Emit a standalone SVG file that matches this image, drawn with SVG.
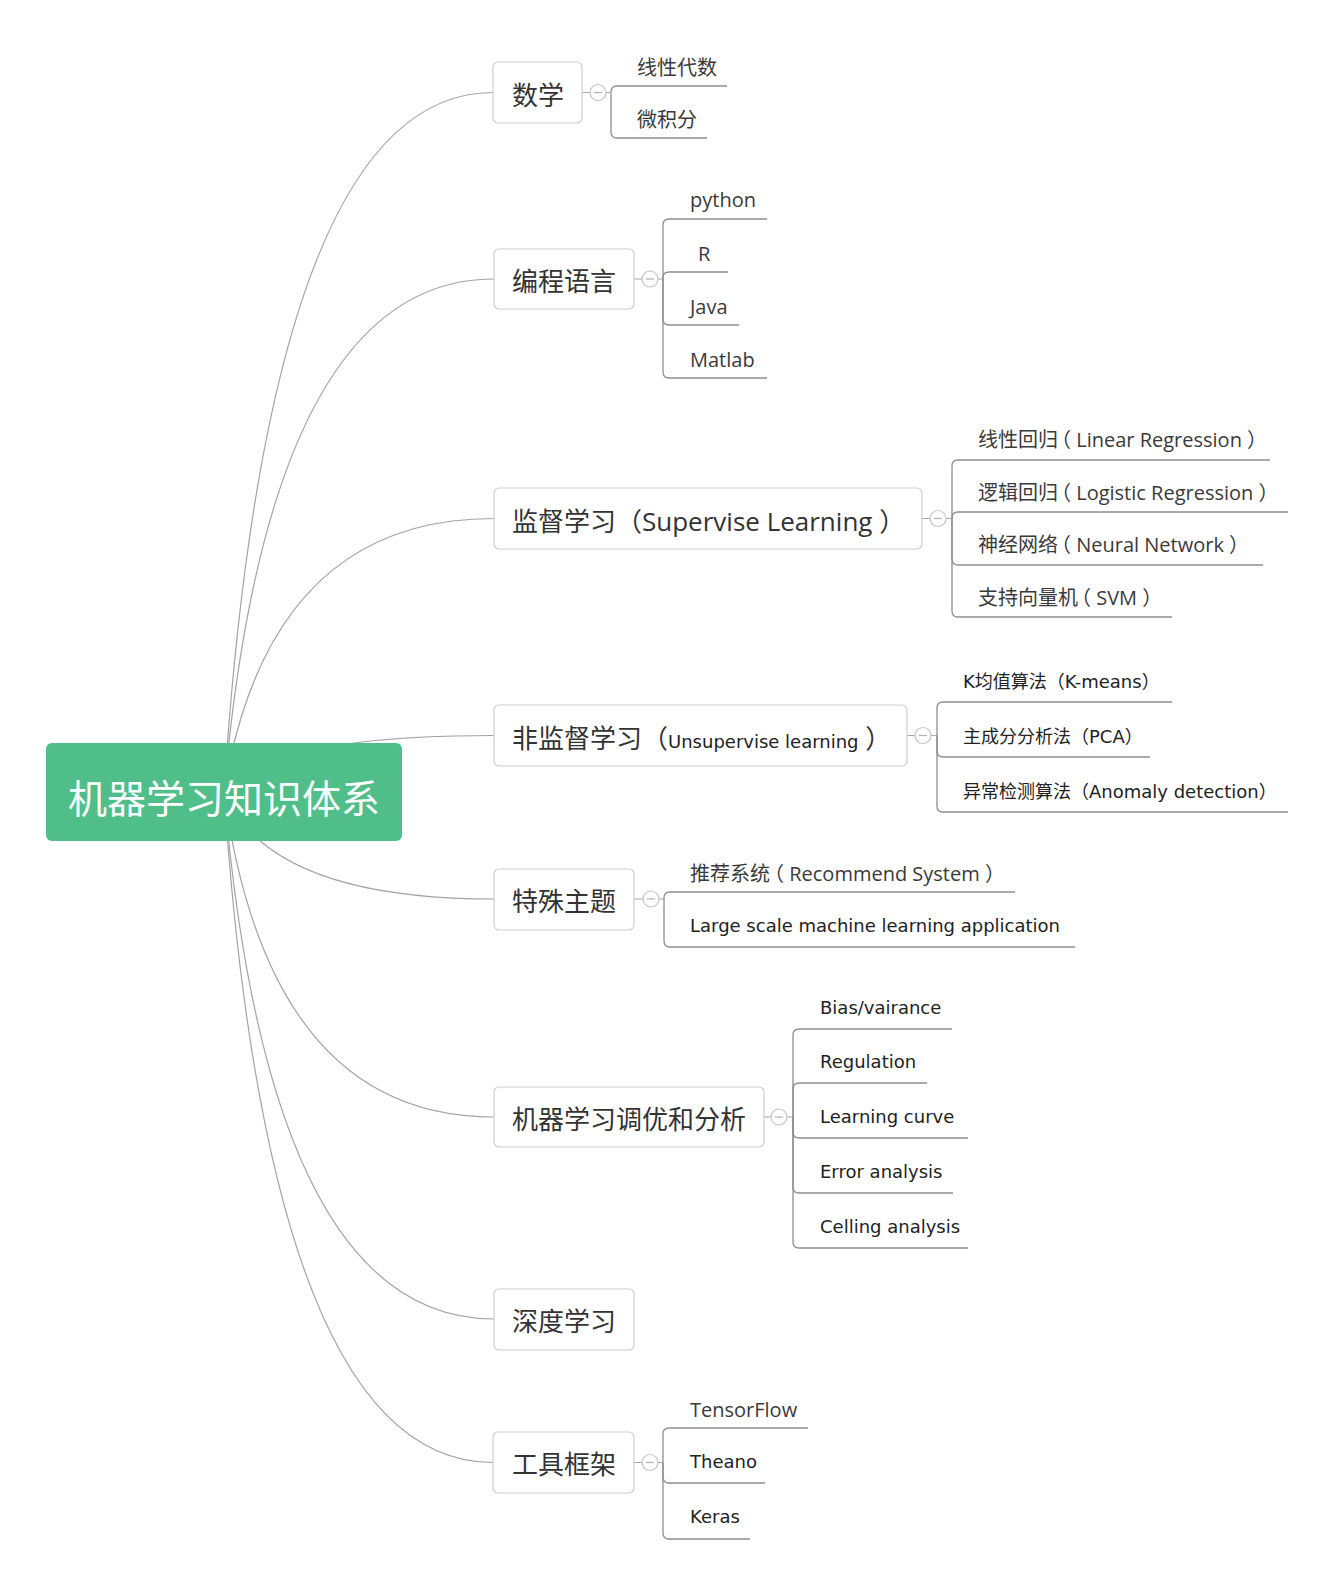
<svg xmlns="http://www.w3.org/2000/svg" width="1342" height="1594" viewBox="0 0 1342 1594">
<style>
.curve{fill:none;stroke:#a3a3a3;stroke-width:1.2}
.br{fill:none;stroke:#8f8f8f;stroke-width:1.3}
.stub{fill:none;stroke:#a8a8a8;stroke-width:1.2}
.box{fill:#fff;stroke:#cfcfcf;stroke-width:1.2}
.tog{fill:#fff;stroke:#c4c4c4;stroke-width:1.2}
.minus{stroke:#b0b0b0;stroke-width:1.2}
.bt{font-family:"Open Sans","Noto Sans CJK SC",sans-serif;font-size:26px;fill:#333}
.lt{font-family:"Open Sans","Noto Sans CJK SC",sans-serif;font-size:20px;fill:#3a3a3a}
.tt{font-family:"DejaVu Sans","Noto Sans CJK SC",sans-serif;font-size:18px;fill:#222}
</style>
<rect width="1342" height="1594" fill="#fff"/>
<g id="connectors">
<path class="curve" d="M224 792 Q269 92.5 493 92.5"/>
<path class="curve" d="M224 792 Q269 279 494 279"/>
<path class="curve" d="M224 792 Q269 518.5 494 518.5"/>
<path class="curve" d="M224 792 Q269 735.5 494 735.5"/>
<path class="curve" d="M224 792 Q269 899 494 899"/>
<path class="curve" d="M224 792 Q269 1117 494 1117"/>
<path class="curve" d="M224 792 Q269 1319 494 1319"/>
<path class="curve" d="M224 792 Q269 1462.5 493 1462.5"/>
<path class="stub" d="M582 92.5 L590 92.5 M606 92.5 L611 92.5"/>
<path class="br" d="M611 92.5 L611 92 Q611 86 617 86 L727 86"/>
<path class="br" d="M611 92.5 L611 132 Q611 138 617 138 L707 138"/>
<path class="stub" d="M634 279 L642 279 M658 279 L663 279"/>
<path class="br" d="M663 279 L663 225 Q663 219 669 219 L767 219"/>
<path class="br" d="M663 279 L663 278 Q663 272 669 272 L728 272"/>
<path class="br" d="M663 279 L663 319 Q663 325 669 325 L739 325"/>
<path class="br" d="M663 279 L663 372 Q663 378 669 378 L767 378"/>
<path class="stub" d="M922 518.5 L930 518.5 M946 518.5 L952 518.5"/>
<path class="br" d="M952 518.5 L952 466 Q952 460 958 460 L1270 460"/>
<path class="br" d="M952 518.5 L952 518 Q952 512 958 512 L1288 512"/>
<path class="br" d="M952 518.5 L952 559 Q952 565 958 565 L1263 565"/>
<path class="br" d="M952 518.5 L952 611 Q952 617 958 617 L1172 617"/>
<path class="stub" d="M907 735.5 L915 735.5 M931 735.5 L937 735.5"/>
<path class="br" d="M937 735.5 L937 708 Q937 702 943 702 L1172 702"/>
<path class="br" d="M937 735.5 L937 751 Q937 757 943 757 L1150 757"/>
<path class="br" d="M937 735.5 L937 806 Q937 812 943 812 L1288 812"/>
<path class="stub" d="M634 899 L643 899 M659 899 L664 899"/>
<path class="br" d="M664 899 L664 898 Q664 892 670 892 L1015 892"/>
<path class="br" d="M664 899 L664 941 Q664 947 670 947 L1075 947"/>
<path class="stub" d="M764 1117 L771 1117 M787 1117 L793 1117"/>
<path class="br" d="M793 1117 L793 1035 Q793 1029 799 1029 L952 1029"/>
<path class="br" d="M793 1117 L793 1089 Q793 1083 799 1083 L927 1083"/>
<path class="br" d="M793 1117 L793 1132 Q793 1138 799 1138 L968 1138"/>
<path class="br" d="M793 1117 L793 1187 Q793 1193 799 1193 L953 1193"/>
<path class="br" d="M793 1117 L793 1242 Q793 1248 799 1248 L968 1248"/>
<path class="stub" d="M634 1462.5 L642 1462.5 M658 1462.5 L663 1462.5"/>
<path class="br" d="M663 1462.5 L663 1434 Q663 1428 669 1428 L808 1428"/>
<path class="br" d="M663 1462.5 L663 1477 Q663 1483 669 1483 L765 1483"/>
<path class="br" d="M663 1462.5 L663 1533 Q663 1539 669 1539 L750 1539"/>
</g>
<g id="root">
<rect x="46" y="743" width="356" height="98" rx="6" fill="#4fbe89"/>
<text x="224" y="813" text-anchor="middle" font-family="Noto Sans CJK SC,sans-serif" font-size="39" fill="#fff">机器学习知识体系</text>
</g>
<g id="n-math">
<rect class="box" x="493" y="62" width="89" height="61" rx="5"/>
<text class="bt" x="512" y="105">数学</text>
<circle class="tog" cx="598" cy="92.5" r="8"/><path class="minus" d="M594 92.5 H602"/>
</g>
<g id="n-math-children">
<text class="lt" x="637" y="75">线性代数</text>
<text class="lt" x="637" y="127">微积分</text>
</g>
<g id="n-lang">
<rect class="box" x="494" y="249" width="140" height="60" rx="5"/>
<text class="bt" x="512" y="291">编程语言</text>
<circle class="tog" cx="650" cy="279" r="8"/><path class="minus" d="M646 279 H654"/>
</g>
<g id="n-lang-children">
<text class="lt" x="690" y="207">python</text>
<text class="lt" x="698" y="261">R</text>
<text class="lt" x="690" y="314">Java</text>
<text class="lt" x="690" y="367">Matlab</text>
</g>
<g id="n-sup">
<rect class="box" x="494" y="488" width="428" height="61" rx="5"/>
<text class="bt" x="512" y="531">监督学习（Supervise Learning ）</text>
<circle class="tog" cx="938" cy="518.5" r="8"/><path class="minus" d="M934 518.5 H942"/>
</g>
<g id="n-sup-children">
<text class="lt" x="978" y="447">线性回归<tspan dx="-7">（ Linear Regression ）</tspan></text>
<text class="lt" x="978" y="500">逻辑回归<tspan dx="-7">（ Logistic Regression ）</tspan></text>
<text class="lt" x="978" y="552">神经网络<tspan dx="-7">（ Neural Network ）</tspan></text>
<text class="lt" x="978" y="605">支持向量机<tspan dx="-7">（ SVM ）</tspan></text>
</g>
<g id="n-unsup">
<rect class="box" x="494" y="705" width="413" height="61" rx="5"/>
<text class="bt" x="512" y="748">非监督学习（<tspan class="tt" font-size="18">Unsupervise learning</tspan> ）</text>
<circle class="tog" cx="923" cy="735.5" r="8"/><path class="minus" d="M919 735.5 H927"/>
</g>
<g id="n-unsup-children">
<text class="tt" x="963" y="688">K均值算法（K-means）</text>
<text class="tt" x="963" y="743">主成分分析法（PCA）</text>
<text class="tt" x="963" y="798">异常检测算法（Anomaly detection）</text>
</g>
<g id="n-special">
<rect class="box" x="494" y="869" width="140" height="61" rx="5"/>
<text class="bt" x="512" y="911">特殊主题</text>
<circle class="tog" cx="651" cy="899" r="8"/><path class="minus" d="M647 899 H655"/>
</g>
<g id="n-special-children">
<text class="lt" x="690" y="881">推荐系统<tspan dx="-6">（ Recommend System ）</tspan></text>
<text class="tt" x="690" y="932">Large scale machine learning application</text>
</g>
<g id="n-tune">
<rect class="box" x="494" y="1087" width="270" height="60" rx="5"/>
<text class="bt" x="512" y="1129">机器学习调优和分析</text>
<circle class="tog" cx="779" cy="1117" r="8"/><path class="minus" d="M775 1117 H783"/>
</g>
<g id="n-tune-children">
<text class="tt" x="820" y="1014">Bias/vairance</text>
<text class="tt" x="820" y="1068">Regulation</text>
<text class="tt" x="820" y="1123">Learning curve</text>
<text class="tt" x="820" y="1178">Error analysis</text>
<text class="tt" x="820" y="1233">Celling analysis</text>
</g>
<g id="n-deep">
<rect class="box" x="494" y="1289" width="140" height="61" rx="5"/>
<text class="bt" x="512" y="1331">深度学习</text>
</g>
<g id="n-tools">
<rect class="box" x="493" y="1432" width="141" height="61" rx="5"/>
<text class="bt" x="512" y="1474">工具框架</text>
<circle class="tog" cx="650" cy="1462.5" r="8"/><path class="minus" d="M646 1462.5 H654"/>
</g>
<g id="n-tools-children">
<text class="lt" x="690" y="1417">TensorFlow</text>
<text class="tt" x="690" y="1468">Theano</text>
<text class="tt" x="690" y="1523">Keras</text>
</g>
</svg>
